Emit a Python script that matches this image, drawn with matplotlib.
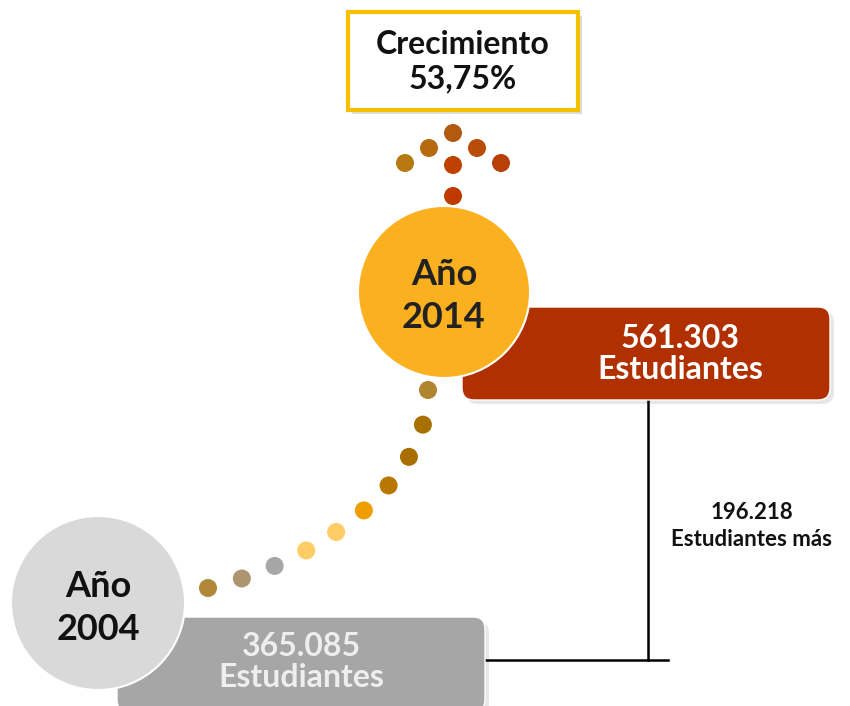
import numpy as np
import matplotlib
matplotlib.use("Agg")
import matplotlib.pyplot as plt
from matplotlib.patches import FancyBboxPatch, Circle, Rectangle

# data
years = ["2004", "2014"]
students = [365085, 561303]
growth_pct = 53.75
extra = students[1] - students[0]

dot_colors = ["#B08838", "#AD9570", "#A6A6A6", "#FFCC66", "#FFCC66",
              "#EE9E00", "#B87800", "#A86E00", "#A87000", "#B08530"]
arrow_colors = ["#B87A10", "#B56A10", "#B45A10", "#B84C08", "#B84008", "#C04000", "#C03A00"]


def fmt(n):
    return f"{n:,}".replace(",", ".")


plt.rcParams['font.family'] = ['Lato', 'DejaVu Sans']
fig = plt.figure(figsize=(8.5, 7.06), dpi=100)
ax = fig.add_axes([0, 0, 1, 1])
ax.set_xlim(0, 850)
ax.set_ylim(706, 0)
ax.axis("off")

# connector lines
ax.plot([648, 648], [400, 660], color="black", lw=1.8, zorder=1)
ax.plot([485, 668], [660, 660], color="black", lw=1.8, zorder=1)

# value boxes
def box(x0, y0, x1, y1, color, z):
    ax.add_patch(FancyBboxPatch((x0 + 4, y0 + 4), x1 - x0, y1 - y0,
                                boxstyle="round,pad=0,rounding_size=12",
                                fc="#00000018", ec="none", zorder=z - 0.1))
    ax.add_patch(FancyBboxPatch((x0, y0), x1 - x0, y1 - y0,
                                boxstyle="round,pad=0,rounding_size=12",
                                fc=color, ec="white", lw=1, zorder=z))

box(117, 617, 485, 712, "#A6A6A6", 2)
box(462, 307, 830, 400, "#B03000", 2)
ax.text(301, 662, f"{fmt(students[0])}\nEstudiantes", ha="center", va="center",
        color="#EEEEEE", fontsize=23, fontweight="bold", linespacing=1.08, zorder=5)
ax.text(680, 354, f"{fmt(students[1])}\nEstudiantes", ha="center", va="center",
        color="white", fontsize=23, fontweight="bold", linespacing=1.08, zorder=5)

# year circles
ax.add_patch(Circle((98, 603), 87, fc="#D9D9D9", ec="white", lw=1.5, zorder=3))
ax.add_patch(Circle((444, 292), 86, fc="#FBB020", ec="white", lw=1.5, zorder=3))
ax.text(98, 608, f"Año\n{years[0]}", ha="center", va="center", fontsize=26,
        fontweight="bold", color="#111111", linespacing=1.38, zorder=5)
ax.text(444, 296, f"Año\n{years[1]}", ha="center", va="center", fontsize=26,
        fontweight="bold", color="#222222", linespacing=1.38, zorder=5)

# dotted curve between the circles (cubic bezier, evenly spaced by arc length)
P = np.array([[208, 588], [320, 562], [428, 482], [428, 390]], dtype=float)
t = np.linspace(0, 1, 400)
B = ((1 - t) ** 3)[:, None] * P[0] + (3 * (1 - t) ** 2 * t)[:, None] * P[1] \
    + (3 * (1 - t) * t ** 2)[:, None] * P[2] + (t ** 3)[:, None] * P[3]
seg = np.r_[0, np.cumsum(np.hypot(*np.diff(B, axis=0).T))]
s = np.linspace(0, seg[-1], len(dot_colors))
xs = np.interp(s, seg, B[:, 0])
ys = np.interp(s, seg, B[:, 1])
for x, y, c in zip(xs, ys, dot_colors):
    ax.add_patch(Circle((x, y), 9, fc=c, ec="none", zorder=4))

# arrow of dots
cx, step = 453, 24
arrow_pos = [(cx - 2 * step, 163), (cx - step, 148), (cx, 133), (cx + step, 148),
             (cx + 2 * step, 163), (cx, 165), (cx, 196)]
for (x, y), c in zip(arrow_pos, arrow_colors):
    ax.add_patch(Circle((x, y), 9, fc=c, ec="none", zorder=4))

# growth box
ax.add_patch(Rectangle((352, 16), 230, 98, fc="#00000022", ec="none", zorder=2))
ax.add_patch(Rectangle((348, 12), 230, 98, fc="white", ec="#F5C000", lw=3, zorder=3))
ax.text(463, 62, f"Crecimiento\n{growth_pct:.2f}%".replace(".", ","), ha="center",
        va="center", fontsize=23, fontweight="bold", color="#111111",
        linespacing=1.22, zorder=5)

ax.text(752, 526, f"{fmt(extra)}\nEstudiantes más", ha="center", va="center",
        fontsize=16, fontweight="bold", color="#111111", linespacing=1.35, zorder=5)

fig.savefig("out.png", dpi=100)
